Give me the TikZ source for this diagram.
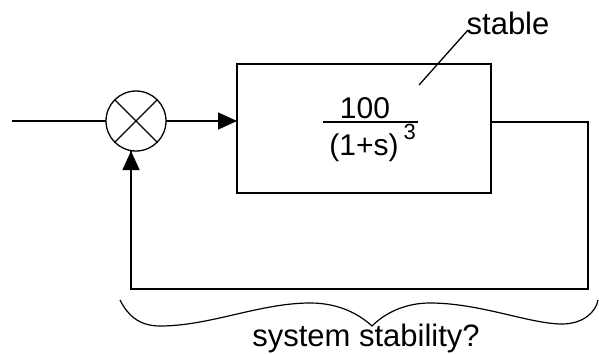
\documentclass[tikz,border=0pt]{standalone}
\usepackage{fontspec}
\setmainfont{Liberation Sans}
\usetikzlibrary{arrows.meta}
\begin{document}
\begin{tikzpicture}[x=1pt,y=-1pt,
  line width=1.3pt,
  every node/.style={inner sep=0pt,outer sep=0pt},
  tip/.style={-{Triangle[length=19pt,width=17pt]}},
  bigtext/.style={font=\fontsize{30}{36}\selectfont},
  labeltext/.style={font=\fontsize{31}{37}\selectfont}]
\useasboundingbox (0,0) rectangle (599,353);
% summing junction
\node[draw,circle,minimum size=60pt,line width=1.3pt] (sum) at (136,121) {};
\draw (sum.north west) -- (sum.south east);
\draw (sum.north east) -- (sum.south west);
% plant box
\node[draw,rectangle,minimum width=254pt,minimum height=129pt] (box) at (364,128.5) {};
% fraction
\node[bigtext,anchor=base] (num) at (365,118) {100};
\coordinate (barL) at (323,122);
\coordinate (barR) at (418,122);
\draw[line width=1.2pt] (barL) -- (barR);
\node[bigtext,anchor=base] (den) at (364,155) {(1+s)};
\node[font=\fontsize{22}{26}\selectfont,anchor=base west] (pow) at (den.base east) [xshift=5pt,yshift=16pt] {3};
% label stable
\node[labeltext,anchor=base] (stable) at (508,35) {stable};
\coordinate (lead) at (419,85);
\coordinate (leadend) at (468,30);
\draw (lead) -- (leadend);
% input
\coordinate (in) at (12,121);
\draw (in) -- (sum.west);
\draw[tip] (sum.east) -- (box.west |- sum.east);
% feedback
\coordinate (fr) at (588,122);
\coordinate (fbr) at (588,289);
\coordinate (fbl) at (131,289);
\coordinate (fbt) at (131,151);
\draw (box.east |- fr) -- (fr) -- (fbr) -- (fbl) -- (fbt);
\draw[tip] (fbl) -- (fbt);
% brace
\draw[line width=1.2pt] (120,300) .. controls (127,314) and (138,326) .. (160,326)
  .. controls (210,326) and (260,303) .. (310,303)
  .. controls (340,303) and (360,315) .. (372,326)
  .. controls (385,313) and (405,303) .. (430,303)
  .. controls (480,303) and (530,324) .. (562,324)
  .. controls (583,324) and (596,312) .. (598,300);
\node[labeltext,anchor=base] (sys) at (366,346) {system stability?};
\end{tikzpicture}
\end{document}
